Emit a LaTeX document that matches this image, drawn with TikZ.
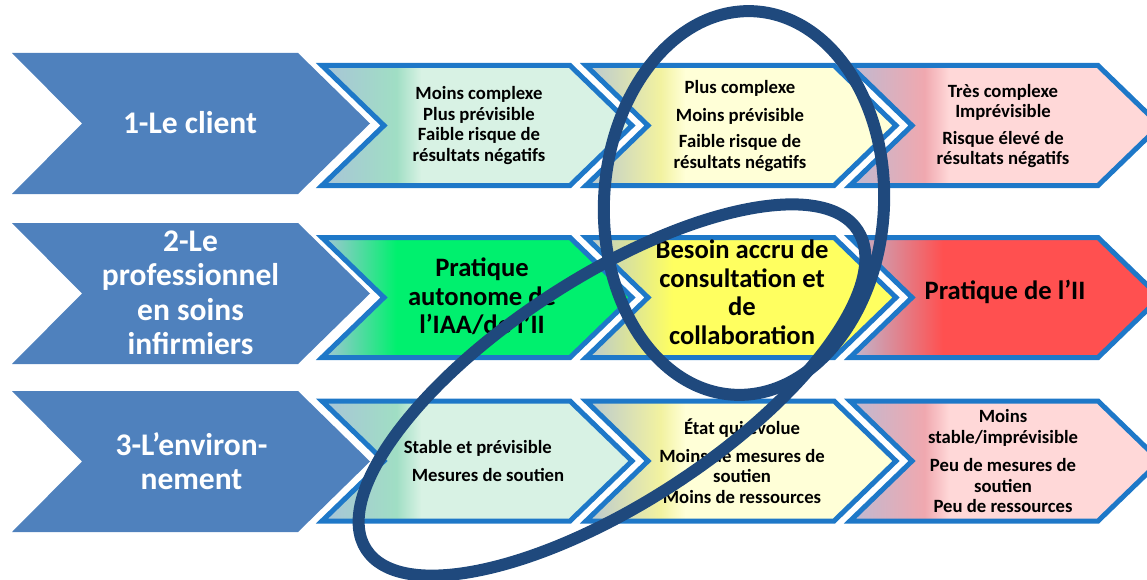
\documentclass[tikz,border=0pt]{standalone}
\usepackage{fontspec}
\setmainfont{Carlito}
\definecolor{cblue}{RGB}{79,129,189}
\definecolor{cborder}{RGB}{30,120,200}
\definecolor{cell}{RGB}{31,73,125}
\definecolor{gA}{RGB}{168,196,216}
\definecolor{mA}{RGB}{160,222,196}
\definecolor{lA}{RGB}{216,242,228}
\definecolor{gB}{RGB}{184,200,210}
\definecolor{mB}{RGB}{242,242,160}
\definecolor{lB}{RGB}{255,255,215}
\definecolor{gC}{RGB}{190,186,210}
\definecolor{mC}{RGB}{240,168,175}
\definecolor{lC}{RGB}{255,216,216}
\definecolor{sG}{RGB}{0,240,110}
\definecolor{sY}{RGB}{255,255,96}
\definecolor{sR}{RGB}{255,80,80}
\pgfdeclarehorizontalshading{shA}{100bp}{color(0bp)=(gA); color(25bp)=(gA); color(37bp)=(mA); color(41bp)=(lA); color(100bp)=(lA)}
\pgfdeclarehorizontalshading{shB}{100bp}{color(0bp)=(gB); color(25bp)=(gB); color(37bp)=(mB); color(41bp)=(lB); color(100bp)=(lB)}
\pgfdeclarehorizontalshading{shC}{100bp}{color(0bp)=(gC); color(25bp)=(gC); color(37bp)=(mC); color(41bp)=(lC); color(100bp)=(lC)}
\pgfdeclarehorizontalshading{shG}{100bp}{color(0bp)=(gA); color(25bp)=(gA); color(37bp)=(sG); color(100bp)=(sG)}
\pgfdeclarehorizontalshading{shY}{100bp}{color(0bp)=(gB); color(25bp)=(gB); color(39bp)=(sY); color(100bp)=(sY)}
\pgfdeclarehorizontalshading{shR}{100bp}{color(0bp)=(gC); color(25bp)=(gC); color(40bp)=(sR); color(100bp)=(sR)}
\newcommand{\mychev}[3]{%
  \path[shade, shading=#3, draw=cborder, line width=5pt, line join=miter]
    ({#1},{#2-60}) -- ({#1+248},{#2-60}) -- ({#1+310},{#2}) -- ({#1+248},{#2+60})
    -- ({#1},{#2+60}) -- ({#1+62},{#2}) -- cycle;}
\newcommand{\mybluechev}[1]{%
  \fill[cblue] (12,{#1-70.5}) -- (298,{#1-70.5}) -- (370,{#1}) -- (298,{#1+70.5})
    -- (12,{#1+70.5}) -- (82,{#1}) -- cycle;}
\begin{document}
\begin{tikzpicture}[x=1pt,y=-1pt,
  bluetxt/.style={text=white, font=\bfseries\fontsize{31.5}{34.5}\selectfont, align=center, inner sep=0pt},
  smalltxt/.style={text=black, font=\bfseries\fontsize{18.7}{20.5}\selectfont, align=center, inner sep=0pt},
  bigtxt/.style={text=black, font=\bfseries\fontsize{26.6}{28.5}\selectfont, align=center, inner sep=0pt},
  loop/.style={draw=cell, line width=12pt}]
\useasboundingbox (0,0) rectangle (1147,580);
\clip (0,0) rectangle (1147,580);
% left blue chevrons
\mybluechev{123.5}
\mybluechev{293.5}
\mybluechev{461.5}
% row 1
\mychev{322}{125.5}{shA}
\mychev{586}{125.5}{shB}
\mychev{850}{125.5}{shC}
% row 2
\mychev{322}{297.5}{shG}
\mychev{586}{297.5}{shY}
\mychev{850}{297.5}{shR}
% row 3
\mychev{322}{461}{shA}
\mychev{586}{461}{shB}
\mychev{850}{461}{shC}
% labels
\node[bluetxt] (b1) at (190,123) {1-Le client};
\node[bluetxt] (b2) at (190.5,293) {2-Le\\professionnel\\en soins\\infirmiers};
\node[bluetxt] (b3) at (191.5,461) {3-L’environ-\\nement};
\node[smalltxt] (t11) at (479,125.5) {Moins complexe\\Plus prévisible\\Faible risque de\\résultats négatifs};
\node[smalltxt] (t12) at (740,126) {Plus complexe\\[7pt]Moins prévisible\\[6pt]Faible risque de\\résultats négatifs};
\node[smalltxt] (t13) at (1003,126) {Très complexe\\Imprévisible\\[6pt]Risque élevé de\\résultats négatifs};
\node[bigtxt] (t21) at (482,296.5) {Pratique\\autonome de\\l’IAA/de l’II};
\node[bigtxt] (t22) at (742,292.5) {Besoin accru de\\consultation et\\de\\collaboration};
\node[bigtxt] (t23) at (1005,292) {Pratique de l’II};
\node[smalltxt, align=left] (t31) at (484,461) {Stable et prévisible\\[7pt]\hspace*{8pt}Mesures de soutien};
\node[smalltxt] (t32) at (742,461) {État qui évolue\\[7pt]Moins de mesures de\\soutien\\Moins de ressources};
\node[smalltxt] (t33) at (1003,461.5) {Moins\\stable/imprévisible\\[8pt]Peu de mesures de\\soutien\\Peu de ressources};
% highlight loops
\draw[loop, rotate around={-3:(744,203)}] (744,203) ellipse [x radius=140, y radius=192];
\draw[loop, rotate around={33:(612,390)}] (612,390) ellipse [x radius=293, y radius=113];
\end{tikzpicture}
\end{document}
